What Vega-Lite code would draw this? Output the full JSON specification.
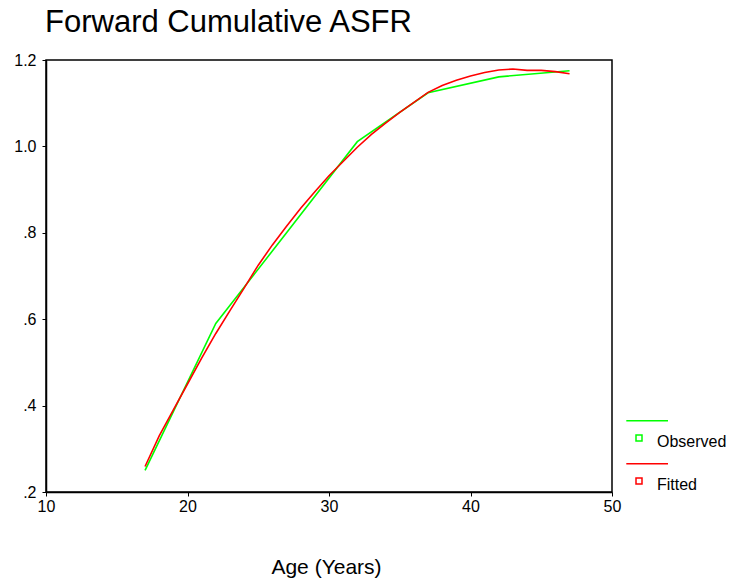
{
  "$schema": "https://vega.github.io/schema/vega-lite/v6.json",
  "width": 566,
  "height": 432,
  "autosize": "none",
  "padding": {"left": 46, "top": 60, "right": 124, "bottom": 91},
  "background": "white",
  "title": {
    "text": "Forward Cumulative ASFR",
    "anchor": "start",
    "frame": "group",
    "offset": 13,
    "dx": -1,
    "font": "Liberation Sans",
    "fontSize": 31,
    "fontWeight": "normal",
    "color": "black"
  },
  "data": {
    "values": [
      {"age": 17, "value": 0.25, "series": "Observed"},
      {"age": 22, "value": 0.59, "series": "Observed"},
      {"age": 27, "value": 0.80, "series": "Observed"},
      {"age": 32, "value": 1.011, "series": "Observed"},
      {"age": 37, "value": 1.124, "series": "Observed"},
      {"age": 42, "value": 1.161, "series": "Observed"},
      {"age": 47, "value": 1.175, "series": "Observed"},
      {"age": 17, "value": 0.259, "series": "Fitted"},
      {"age": 18, "value": 0.33, "series": "Fitted"},
      {"age": 19, "value": 0.39, "series": "Fitted"},
      {"age": 20, "value": 0.45, "series": "Fitted"},
      {"age": 21, "value": 0.51, "series": "Fitted"},
      {"age": 22, "value": 0.567, "series": "Fitted"},
      {"age": 23, "value": 0.62, "series": "Fitted"},
      {"age": 24, "value": 0.672, "series": "Fitted"},
      {"age": 25, "value": 0.725, "series": "Fitted"},
      {"age": 26, "value": 0.772, "series": "Fitted"},
      {"age": 27, "value": 0.815, "series": "Fitted"},
      {"age": 28, "value": 0.857, "series": "Fitted"},
      {"age": 29, "value": 0.895, "series": "Fitted"},
      {"age": 30, "value": 0.932, "series": "Fitted"},
      {"age": 31, "value": 0.965, "series": "Fitted"},
      {"age": 32, "value": 0.998, "series": "Fitted"},
      {"age": 33, "value": 1.028, "series": "Fitted"},
      {"age": 34, "value": 1.054, "series": "Fitted"},
      {"age": 35, "value": 1.079, "series": "Fitted"},
      {"age": 36, "value": 1.102, "series": "Fitted"},
      {"age": 37, "value": 1.125, "series": "Fitted"},
      {"age": 38, "value": 1.141, "series": "Fitted"},
      {"age": 39, "value": 1.153, "series": "Fitted"},
      {"age": 40, "value": 1.163, "series": "Fitted"},
      {"age": 41, "value": 1.171, "series": "Fitted"},
      {"age": 42, "value": 1.177, "series": "Fitted"},
      {"age": 43, "value": 1.179, "series": "Fitted"},
      {"age": 44, "value": 1.176, "series": "Fitted"},
      {"age": 45, "value": 1.176, "series": "Fitted"},
      {"age": 46, "value": 1.173, "series": "Fitted"},
      {"age": 47, "value": 1.168, "series": "Fitted"}
    ]
  },
  "mark": {"type": "line", "strokeWidth": 1.6, "clip": false},
  "encoding": {
    "x": {
      "field": "age",
      "type": "quantitative",
      "scale": {"domain": [10, 50], "nice": false, "zero": false},
      "axis": {
        "values": [10, 20, 30, 40, 50],
        "title": "Age (Years)",
        "labelFlush": false,
        "labelPadding": 2,
        "titleFontSize": 21,
        "titleY": 81,
        "titleX": 280,
        "titleBaseline": "alphabetic"
      }
    },
    "y": {
      "field": "value",
      "type": "quantitative",
      "scale": {"domain": [0.2, 1.2], "nice": false, "zero": false},
      "axis": {
        "values": [0.2, 0.4, 0.6, 0.8, 1.0, 1.2],
        "title": null,
        "labelExpr": "datum.value < 0.99 ? substring(format(datum.value, '.1f'), 1) : format(datum.value, '.1f')",
        "labelPadding": 6
      }
    },
    "color": {
      "field": "series",
      "type": "nominal",
      "scale": {"domain": ["Observed", "Fitted"], "range": ["#00ff00", "#ff0000"]},
      "legend": {
        "orient": "none",
        "legendX": 582,
        "legendY": 371,
        "title": null,
        "padding": 0,
        "symbolType": "M-1.27,-2.13H2.9M-0.3,-0.7H0.3V-0.1H-0.3Z",
        "symbolSize": 400,
        "symbolStrokeWidth": 1.5,
        "symbolFillColor": "white",
        "labelFont": "Liberation Sans",
        "labelFontSize": 16,
        "labelColor": "black",
        "labelOffset": 7,
        "rowPadding": 10
      }
    }
  },
  "config": {
    "view": {"stroke": "black", "strokeWidth": 1.5},
    "axis": {
      "grid": false,
      "domainColor": "black",
      "domainWidth": 1.5,
      "tickColor": "black",
      "tickSize": 4,
      "tickWidth": 1,
      "labelFont": "Liberation Sans",
      "labelFontSize": 16,
      "labelColor": "black",
      "titleFont": "Liberation Sans",
      "titleFontWeight": "normal",
      "titleColor": "black"
    }
  }
}
